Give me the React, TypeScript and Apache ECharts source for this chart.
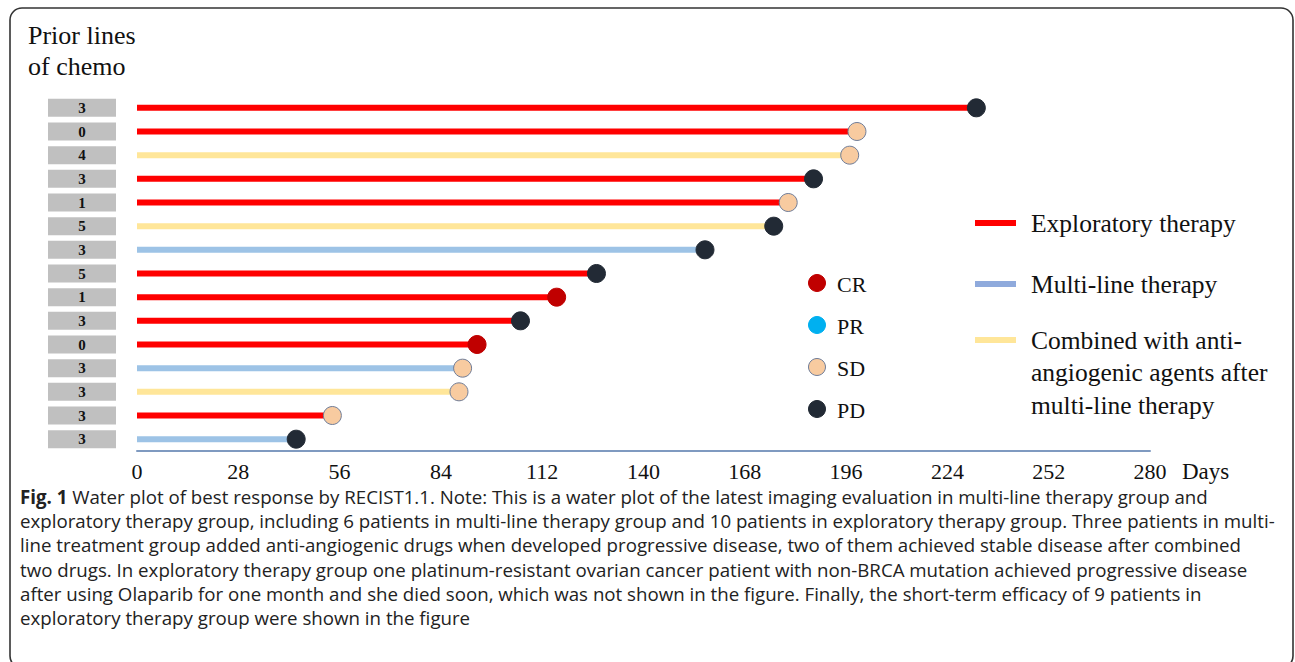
import React, { useEffect, useRef } from "react";
import * as echarts from "echarts";

const priorLines = ["3", "0", "4", "3", "1", "5", "3", "5", "1", "3", "0", "3", "3", "3", "3"];
const days = [232, 199, 197, 187, 180, 176, 157, 127, 116, 106, 94, 90, 89, 54, 44];
const groups = ["E", "E", "C", "E", "E", "C", "M", "E", "E", "E", "E", "M", "C", "E", "M"];
const responses = ["PD", "SD", "SD", "PD", "SD", "PD", "PD", "PD", "CR", "PD", "CR", "SD", "SD", "SD", "PD"];
const xTicks = [0, 280, 28];

const groupNames: Record<string, string> = {
  E: "Exploratory therapy",
  M: "Multi-line therapy",
  C: "Combined with anti-\nangiogenic agents after\nmulti-line therapy",
};
const groupColors: Record<string, string> = { E: "#ff0000", M: "#9dc3e6", C: "#ffe699" };
const legendLineColors: Record<string, string> = { E: "#ff0000", M: "#8faadc", C: "#ffe699" };
const responseKeys = ["CR", "PR", "SD", "PD"];
const responseColors: Record<string, string> = { CR: "#c00000", PR: "#00b0f0", SD: "#f8cba0", PD: "#222a35" };

const captionLines = [
  "Water plot of best response by RECIST1.1. Note: This is a water plot of the latest imaging evaluation in multi-line therapy group and",
  "exploratory therapy group, including 6 patients in multi-line therapy group and 10 patients in exploratory therapy group. Three patients in multi-",
  "line treatment group added anti-angiogenic drugs when developed progressive disease, two of them achieved stable disease after combined",
  "two drugs. In exploratory therapy group one platinum-resistant ovarian cancer patient with non-BRCA mutation achieved progressive disease",
  "after using Olaparib for one month and she died soon, which was not shown in the figure. Finally, the short-term efficacy of 9 patients in",
  "exploratory therapy group were shown in the figure",
];

const SERIF = "'Liberation Serif', 'DejaVu Serif', serif";
const SANS = "'Open Sans', 'Noto Sans', sans-serif";
const CAP = 18.7;

export default function App() {
  const ref = useRef<HTMLDivElement>(null);
  useEffect(() => {
    if (!ref.current) return;
    const chart = echarts.init(ref.current, undefined, { renderer: "svg" });
    const cats = priorLines.map((_, i) => String(i));

    const barSeries = ["E", "M", "C"].map((g) => ({
      type: "bar",
      name: g,
      stack: "all",
      barWidth: 6,
      silent: true,
      itemStyle: { color: groupColors[g] },
      data: days.map((d, i) => (groups[i] === g ? d : "-")),
      z: 2,
    }));
    const dotSeries = responseKeys.map((r) => ({
      type: "scatter",
      name: r,
      symbolSize: 18,
      itemStyle: {
        color: responseColors[r],
        borderColor: r === "SD" ? "#6f7d99" : responseColors[r],
        borderWidth: 1,
        opacity: 1,
      },
      data: days.map((d, i) => (responses[i] === r ? [d, String(i)] : null)).filter((x) => x),
      z: 5,
    }));

    const graphics: any[] = [
      {
        type: "rect",
        shape: { x: 10, y: 8, width: 1283, height: 660, r: 12 },
        style: { fill: "none", stroke: "#333", lineWidth: 1.6 },
        silent: true,
      },
      {
        type: "text",
        x: 28,
        y: 20,
        style: { text: "Prior lines\nof chemo", font: `26px ${SERIF}`, fill: "#111", lineHeight: 31 },
      },
      {
        type: "text",
        x: 1182,
        y: 460,
        style: { text: "Days", font: `23px ${SERIF}`, fill: "#111" },
      },
    ];
    responseKeys.forEach((r, i) => {
      const y = 283 + i * 42;
      graphics.push({
        type: "circle",
        shape: { cx: 817, cy: y, r: 8.5 },
        style: {
          fill: responseColors[r],
          stroke: r === "SD" ? "#6f7d99" : responseColors[r],
          lineWidth: 1,
        },
      });
      graphics.push({
        type: "text",
        x: 837,
        y: y + 1,
        style: { text: r, font: `22px ${SERIF}`, fill: "#111", verticalAlign: "middle" },
      });
    });
    const legY: Record<string, number> = { E: 223, M: 284, C: 340 };
    ["E", "M", "C"].forEach((g) => {
      graphics.push({
        type: "rect",
        shape: { x: 975, y: legY[g] - 3, width: 41, height: 6 },
        style: { fill: legendLineColors[g] },
      });
      graphics.push({
        type: "text",
        x: 1031,
        y: legY[g] - 16,
        style: { text: groupNames[g], font: `25.5px ${SERIF}`, fill: "#111", lineHeight: 32.5 },
      });
    });
    graphics.push({
      type: "text",
      x: 20,
      y: 487,
      style: {
        text: "{b|Fig. 1} " + captionLines[0],
        rich: { b: { font: `bold ${CAP}px ${SANS}`, fill: "#222" } },
        font: `${CAP}px ${SANS}`,
        fill: "#222",
      },
    });
    captionLines.slice(1).forEach((l, i) => {
      graphics.push({
        type: "text",
        x: 20,
        y: 487 + (i + 1) * 24.2,
        style: { text: l, font: `${CAP}px ${SANS}`, fill: "#222" },
      });
    });

    chart.setOption({
      animation: false,
      backgroundColor: "#fff",
      grid: { left: 137, right: 145, top: 96, bottom: 662 - 451 },
      xAxis: {
        type: "value",
        min: xTicks[0],
        max: xTicks[1],
        interval: xTicks[2],
        splitLine: { show: false },
        axisTick: { show: false },
        axisLine: { show: true, lineStyle: { color: "#7f9ac0", width: 2 } },
        axisLabel: { fontFamily: SERIF, fontSize: 22, color: "#111", margin: 9 },
      },
      yAxis: {
        type: "category",
        inverse: true,
        data: cats,
        axisLine: { show: false },
        axisTick: { show: false },
        axisLabel: {
          margin: 21,
          formatter: (_v: string, idx: number) => `{b|${priorLines[idx]}}`,
          rich: {
            b: {
              width: 68,
              height: 18,
              lineHeight: 18,
              backgroundColor: "#c0c0c0",
              align: "center",
              fontFamily: SERIF,
              fontWeight: "bold",
              fontSize: 15,
              color: "#111",
            },
          },
        },
      },
      series: [...barSeries, ...dotSeries],
      graphic: graphics,
    });
    return () => chart.dispose();
  }, []);
  return (
    <div
      ref={ref}
      style={{ position: "fixed", left: 0, top: 0, width: 1295, height: 662, background: "#fff" }}
    />
  );
}
